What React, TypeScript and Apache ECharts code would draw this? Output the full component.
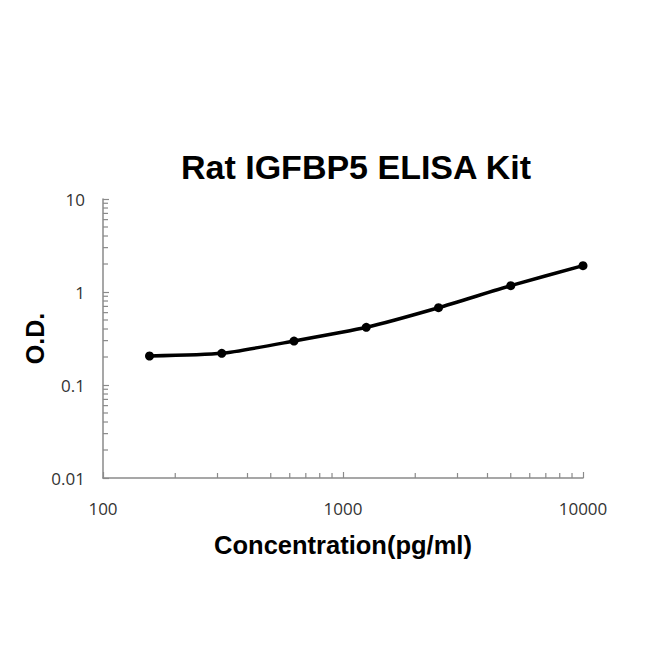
import React, { useEffect, useRef } from "react";
import * as echarts from "echarts";

const concentrations = [156.25, 312.5, 625, 1250, 2500, 5000, 10000];
const odValues = [0.205, 0.219, 0.297, 0.417, 0.678, 1.17, 1.92];
const xMinorTicks = [200, 300, 400, 500, 600, 700, 800, 900, 2000, 3000, 4000, 5000, 6000, 7000, 8000, 9000];
const yMinorTicks = [0.02, 0.03, 0.04, 0.05, 0.06, 0.07, 0.08, 0.09, 0.2, 0.3, 0.4, 0.5, 0.6, 0.7, 0.8, 0.9, 2, 3, 4, 5, 6, 7, 8, 9];
const titleText = "Rat IGFBP5 ELISA Kit";
const xName = "Concentration(pg/ml)";
const yName = "O.D.";

const AXIS_COLOR = "#8a8a8a";
const fmt = (v: number) => String(Number(v.toPrecision(3)));

export default function App() {
  const ref = useRef<HTMLDivElement>(null);
  useEffect(() => {
    if (!ref.current) return;
    const chart = echarts.init(ref.current, null, { renderer: "svg" });
    const tickStyle = { stroke: AXIS_COLOR, lineWidth: 1.2 };
    chart.setOption({
      animation: false,
      backgroundColor: "#ffffff",
      title: {
        text: titleText,
        left: 176,
        top: 145,
        textStyle: {
          fontFamily: "Liberation Sans",
          fontWeight: "bold",
          fontSize: 34,
          color: "#000",
        },
      },
      grid: { left: 103, right: 67, top: 199, bottom: 172 },
      xAxis: {
        type: "log",
        logBase: 10,
        min: 100,
        max: 10000,
        name: xName,
        nameLocation: "middle",
        nameGap: 54,
        nameMoveOverlap: false,
        nameTextStyle: {
          fontFamily: "Liberation Sans",
          fontWeight: "bold",
          fontSize: 25.5,
          color: "#000",
        },
        axisLine: { lineStyle: { color: AXIS_COLOR, width: 1.5 } },
        axisTick: { inside: true, length: 6, lineStyle: { color: AXIS_COLOR, width: 1.2 } },
        axisLabel: {
          margin: 22,
          fontFamily: "Open Sans",
          fontSize: 17,
          color: "#333",
          formatter: fmt,
        },
        splitLine: { show: false },
      },
      yAxis: {
        type: "log",
        logBase: 10,
        min: 0.01,
        max: 10,
        name: yName,
        nameLocation: "middle",
        nameGap: 56,
        nameMoveOverlap: false,
        nameTextStyle: {
          fontFamily: "Liberation Sans",
          fontWeight: "bold",
          fontSize: 25,
          color: "#000",
        },
        axisLine: { show: true, lineStyle: { color: AXIS_COLOR, width: 1.5 } },
        axisTick: { show: true, inside: true, length: 6, lineStyle: { color: AXIS_COLOR, width: 1.2 } },
        axisLabel: {
          margin: 18,
          fontFamily: "Open Sans",
          fontSize: 17,
          color: "#333",
          formatter: fmt,
        },
        splitLine: { show: false },
      },
      series: [
        {
          type: "line",
          data: concentrations.map((c, i) => [c, odValues[i]]),
          smooth: 0.2,
          symbol: "circle",
          symbolSize: 9,
          lineStyle: { color: "#000", width: 3.5 },
          itemStyle: { color: "#000" },
          z: 5,
        },
        {
          type: "custom",
          clip: false,
          silent: true,
          data: xMinorTicks.map((v) => [v, 0.01]),
          renderItem: (_p: any, api: any) => {
            const pt = api.coord([api.value(0), 0.01]);
            return {
              type: "line",
              shape: { x1: pt[0], y1: pt[1], x2: pt[0], y2: pt[1] - 5 },
              style: tickStyle,
            };
          },
        },
        {
          type: "custom",
          clip: false,
          silent: true,
          data: yMinorTicks.map((v) => [100, v]),
          renderItem: (_p: any, api: any) => {
            const pt = api.coord([100, api.value(1)]);
            return {
              type: "line",
              shape: { x1: pt[0], y1: pt[1], x2: pt[0] + 5, y2: pt[1] },
              style: tickStyle,
            };
          },
        },
      ],
    });
    return () => chart.dispose();
  }, []);
  return (
    <div
      ref={ref}
      style={{ position: "fixed", left: 0, top: 0, width: 650, height: 650, background: "#fff" }}
    />
  );
}
